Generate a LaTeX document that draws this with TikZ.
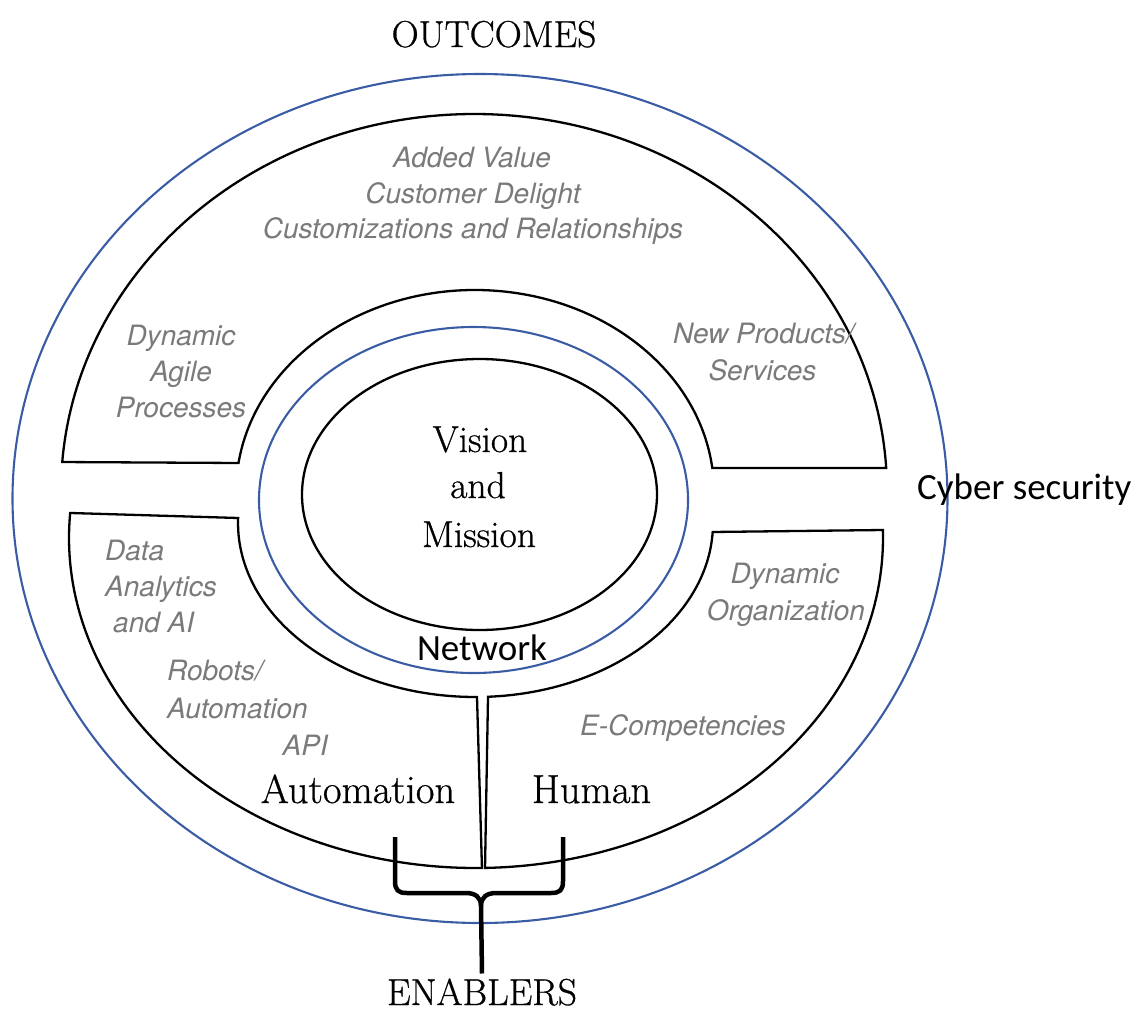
\documentclass[tikz,border=0pt]{standalone}
\usepackage{fontspec}
\usetikzlibrary{calc}
\newfontfamily\graysans{TeX Gyre Heros}
\newfontfamily\calibrisans{Carlito}
\newfontfamily\heavyserif{Latin Modern Roman}[FakeBold=0.7]
\definecolor{ringblue}{RGB}{58,92,165}
\definecolor{softgray}{RGB}{122,122,122}

\begin{document}
\begin{tikzpicture}[x=1pt,y=-1pt,
  band/.style={draw=black, line width=2.3pt, line join=miter},
  ring/.style={draw=ringblue, line width=2.1pt},
  serif/.style={inner sep=0pt, font=\heavyserif\fontsize{37.5}{47.5}\selectfont},
  bigserif/.style={inner sep=0pt, font=\heavyserif\fontsize{40.5}{48}\selectfont},
  sans/.style={inner sep=0pt, font=\calibrisans\fontsize{37}{44}\selectfont},
  soft/.style={inner sep=0pt, text=softgray, font=\graysans\itshape\fontsize{28}{35.5}\selectfont},
  brace/.style={line width=4.5pt, line join=round}]

\useasboundingbox (0,0) rectangle (1148,1023);

% centres of the elliptical outlines
\coordinate (cRing)  at (480,498.5);
\coordinate (cTop)   at (474,491);
\coordinate (cTopIn) at (475,492);
\coordinate (cLow)   at (476,538);
\coordinate (cLowIn) at (475.5,523);
\coordinate (cNet)   at (473.5,500);
\coordinate (cCore)  at (479.5,494.5);

% corner points of the three bands
\coordinate (ubL)  at ($(cTop)+(184.41:413 and 377)$);
\coordinate (ubLi) at ($(cTopIn)+(188.26:239 and 202)$);
\coordinate (ubR)  at ($(cTop)+(356.5:413 and 377)$);
\coordinate (lbL)  at ($(cLow)+(184.35:407 and 330)$);
\coordinate (lbLi) at ($(cLowIn)+(181.65:237.5 and 174)$);
\coordinate (wedgeLb) at ($(cLow)+(89.16:407 and 330)$);
\coordinate (lbR)  at ($(cLow)+(358.61:407 and 330)$);
\coordinate (lbRi) at ($(cLowIn)+(2.96:237.5 and 174)$);
\coordinate (wedgeRb) at ($(cLow)+(88.73:407 and 330)$);

% outer ring
\draw[ring] (cRing) ellipse [x radius=467.5, y radius=424.5];

% upper band (outcomes)
\draw[band] (ubL) -- (ubLi)
  arc[start angle=188.26, end angle=353.18, x radius=239, y radius=202]
  -- (ubR) arc[start angle=356.5, end angle=184.41, x radius=413, y radius=377] -- cycle;

% lower left band (automation)
\draw[band] (lbL) -- (lbLi)
  arc[start angle=181.65, end angle=89.64, x radius=237.5, y radius=174]
  -- (wedgeLb) arc[start angle=89.16, end angle=184.35, x radius=407, y radius=330] -- cycle;

% lower right band (human)
\draw[band] (lbR) -- (lbRi)
  arc[start angle=2.96, end angle=86.98, x radius=237.5, y radius=174]
  -- (wedgeRb) arc[start angle=88.73, end angle=-1.39, x radius=407, y radius=330] -- cycle;

% network ring and core
\draw[ring] (cNet) ellipse [x radius=214.5, y radius=173];
\draw[band] (cCore) ellipse [x radius=177.5, y radius=135.5];

% headings
\node[serif, anchor=base] (outcomes) at (494,47) {OUTCOMES};
\node[serif, anchor=base, outer ysep=5pt] (enablers) at (482,1005) {ENABLERS};

% core text
\node[serif, anchor=base] (vision)  at (480,452) {Vision};
\node[serif, anchor=base] (and)     at (478,498) {and};
\node[serif, anchor=base] (mission) at (479,547) {Mission};

\node[sans, anchor=base] (network) at (482,660) {Network};
\node[sans, anchor=base west] (cyber) at (917,499) {Cyber security};

\node[bigserif, anchor=base] (automation) at (358,803) {Automation};
\node[bigserif, anchor=base] (human) at (591.5,803) {Human};

% outcome items
\node[soft, anchor=base] (added)   at (472,167) {Added Value};
\node[soft, anchor=base] (delight) at (473,203) {Customer Delight};
\node[soft, anchor=base] (custom)  at (473,238) {Customizations and Relationships};

\node[soft, anchor=base] (dyn1) at (181,345) {Dynamic};
\node[soft, anchor=base] (dyn2) at (181,381) {Agile};
\node[soft, anchor=base] (dyn3) at (181,417) {Processes};

\node[soft, anchor=base] (newp) at (763.5,343) {New Products/};
\node[soft, anchor=base] (serv) at (762.5,380) {Services};

% enabler items
\node[soft, anchor=base west] (data1) at (105,560) {Data};
\node[soft, anchor=base west] (data2) at (105,596) {Analytics};
\node[soft, anchor=base west] (data3) at (113,632) {and AI};

\node[soft, anchor=base west] (rob1) at (167,680) {Robots/};
\node[soft, anchor=base west] (rob2) at (167,718) {Automation};
\node[soft, anchor=base east] (api)  at (328,755) {API};

\node[soft, anchor=base] (org1) at (785,583) {Dynamic};
\node[soft, anchor=base] (org2) at (786,620) {Organization};
\node[soft, anchor=base] (ecomp) at (683,735) {E-Competencies};

% brace joining the two enabler bands
\coordinate (brTip) at (481,906);
\coordinate (brL) at (395,837);
\coordinate (brR) at (563,837);
\draw[brace] (enablers.north) -- (brTip)
  .. controls (481,897) and (475,893) .. (466,893) -- (407,893)
  .. controls (398,893) and (395,890) .. (395,881) -- (brL);
\draw[brace] (brTip)
  .. controls (481,897) and (487,893) .. (496,893) -- (551,893)
  .. controls (560,893) and (563,890) .. (563,881) -- (brR);
\end{tikzpicture}
\end{document}
